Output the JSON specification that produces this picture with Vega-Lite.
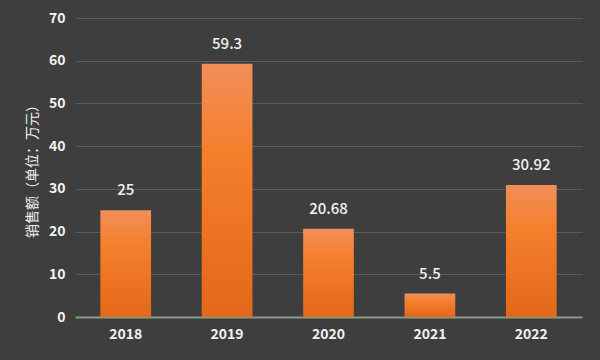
{
  "$schema": "https://vega.github.io/schema/vega-lite/v6.json",
  "autosize": {"type": "none"},
  "width": 507,
  "height": 299,
  "padding": {"left": 75, "top": 18, "right": 18, "bottom": 43},
  "background": "#3e3e3e",
  "config": {
    "font": "Noto Sans CJK SC",
    "view": {"stroke": null}
  },
  "data": {
    "values": [
      {"year": "2018", "sales": 25},
      {"year": "2019", "sales": 59.3},
      {"year": "2020", "sales": 20.68},
      {"year": "2021", "sales": 5.5},
      {"year": "2022", "sales": 30.92}
    ]
  },
  "encoding": {
    "x": {
      "field": "year",
      "type": "nominal",
      "scale": {"paddingInner": 0.5, "paddingOuter": 0.25},
      "axis": {
        "title": null,
        "labelAngle": 0,
        "labelColor": "#f2f2f2",
        "labelFontSize": 14,
        "labelFontWeight": "bold",
        "labelPadding": 10,
        "ticks": false,
        "domainColor": "#8a9b83",
        "domainWidth": 2
      }
    },
    "y": {
      "field": "sales",
      "type": "quantitative",
      "scale": {"domain": [0, 70]},
      "axis": {
        "title": "销售额（单位：万元）",
        "titleColor": "#f2f2f2",
        "titleFontSize": 14,
        "titleFontWeight": "normal",
        "titlePadding": 9,
        "values": [0, 10, 20, 30, 40, 50, 60, 70],
        "labelColor": "#f2f2f2",
        "labelFontSize": 14,
        "labelFontWeight": "bold",
        "labelPadding": 10,
        "ticks": false,
        "domain": false,
        "gridColor": "#5c5c5c",
        "gridWidth": 1
      }
    }
  },
  "layer": [
    {
      "mark": {
        "type": "bar",
        "color": {
          "gradient": "linear",
          "x1": 0, "y1": 0, "x2": 0, "y2": 1,
          "stops": [
            {"offset": 0, "color": "#f28e58"},
            {"offset": 0.35, "color": "#f47f2b"},
            {"offset": 1, "color": "#e4671a"}
          ]
        }
      }
    },
    {
      "mark": {
        "type": "text",
        "dy": -20,
        "color": "#f2f2f2",
        "fontSize": 15,
        "fontWeight": 500
      },
      "encoding": {"text": {"field": "sales", "type": "quantitative"}}
    }
  ]
}
